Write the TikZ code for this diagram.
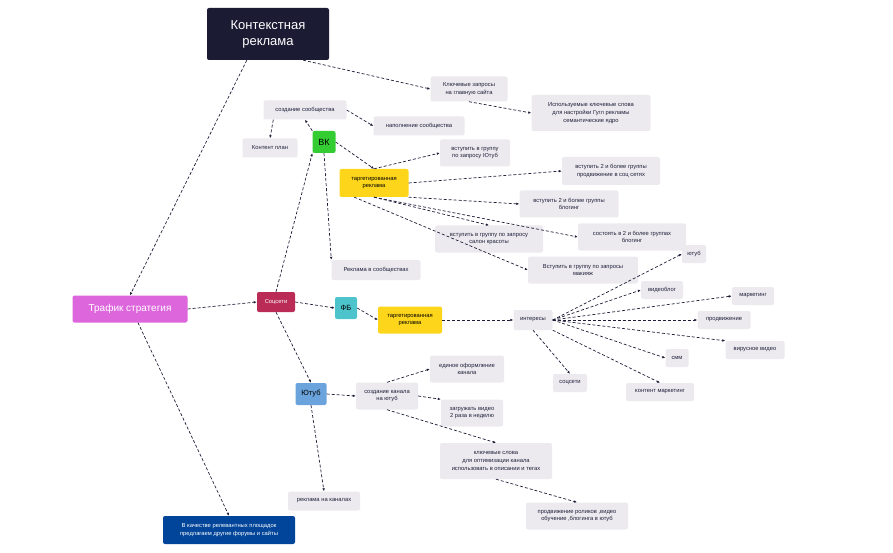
\documentclass[tikz,border=0pt]{standalone}
\usepackage{fontspec}
\setmainfont{Liberation Sans}
\usetikzlibrary{arrows.meta}
\definecolor{grayb}{HTML}{ECEAEE}
\definecolor{ink}{HTML}{1E1E3A}
\begin{document}
\begin{tikzpicture}[x=1pt,y=-1pt,
  b/.style={fill=grayb,rounded corners=2pt,align=center,inner sep=1pt,font=\fontsize{5.8}{7.8}\selectfont,text=ink},
  c/.style={rounded corners=2pt,align=center,inner sep=1pt},
  a/.style={draw=ink,dashed,dash pattern=on 3pt off 2pt,line width=0.7pt,-{Latex[length=3pt,width=2.6pt]}},
  sz/.style 2 args={minimum width=#1,minimum height=#2}]
\useasboundingbox (0,0) rectangle (893,553);
\node[c,fill=ink!90!black,text=white,font=\fontsize{13}{16}\selectfont,sz={122}{52}] (ctx) at (268,34) {Контекстная\\реклама};
\node[b,sz={77}{25}] (kz) at (469,89) {Ключевые запросы\\на главную сайта};
\node[b,sz={119}{36}] (ik) at (591,113) {Используемые ключевые слова\\для настройки Гугл рекламы\\семантические ядро};
\node[b,sz={83}{19}] (ss) at (305,110) {создание сообщества};
\node[b,sz={91}{19}] (ns) at (419,126) {наполнение сообщества};
\node[b,sz={55}{19}] (kp) at (270,148) {Контент план};
\node[c,fill=green!75!black!80,sz={23}{22},font=\fontsize{9}{10}\selectfont] (vk) at (324,142) {ВК};
\node[c,fill=yellow!70!orange!90,sz={69}{28},font=\fontsize{5.8}{7.8}\selectfont] (tv) at (374,183) {таргетированная\\реклама};
\node[b,sz={70}{27}] (v1) at (475,153) {вступить в группу\\по запросу Ютуб};
\node[b,sz={98}{28}] (v2) at (611,171) {вступить 2 и более группы\\продвижение в соц сетях};
\node[b,sz={99}{27}] (v3) at (569,204) {вступить 2 и более группы\\блогинг};
\node[b,sz={108}{27}] (v4) at (489,239) {вступить в группу по запросу\\салон красоты};
\node[b,sz={108}{27}] (v5) at (632,237) {состоять в 2 и более группах\\блогинг};
\node[b,sz={110}{27}] (v6) at (583,270) {Вступить в группу по запросы\\макияж};
\node[b,sz={89}{20}] (rs) at (376,270) {Реклама в сообществах};
\node[c,fill=violet!45!magenta!60,text=white,sz={115}{27},font=\fontsize{10}{12}\selectfont] (tr) at (130,309) {Трафик стратегия};
\node[c,fill=purple!75!pink!90!black,text=white,sz={38}{20},font=\fontsize{5.8}{7}\selectfont] (sc) at (276,302) {Соцсети};
\node[c,fill=cyan!70!green!70,sz={22}{22},font=\fontsize{7.5}{9}\selectfont] (fb) at (346,308) {ФБ};
\node[c,fill=yellow!70!orange!90,sz={64}{27},font=\fontsize{5.8}{7.8}\selectfont] (tf) at (410,320) {таргетированная\\реклама};
\node[b,sz={39}{20}] (in) at (533,320) {интересы};
\node[b,sz={24}{18}] (i1) at (694,254) {ютуб};
\node[b,sz={42}{18}] (i2) at (662,290) {видеоблог};
\node[b,sz={42}{18}] (i3) at (753,296) {маркетинг};
\node[b,sz={53}{18}] (i4) at (724,320) {продвижение};
\node[b,sz={59}{18}] (i5) at (755,350) {вирусное видео};
\node[b,sz={23}{18}] (i6) at (677,358) {смм};
\node[b,sz={34}{18}] (i7) at (570,383) {соцсети};
\node[b,sz={68}{18}] (i8) at (660,392) {контент маркетинг};
\node[c,fill=cyan!60!blue!60,sz={31}{22},font=\fontsize{7.5}{9}\selectfont] (yt) at (311,394) {Ютуб};
\node[b,sz={62}{27}] (sk) at (387,396) {создание канала\\на ютуб};
\node[b,sz={74}{27}] (eo) at (467,369) {единое оформление\\канала};
\node[b,sz={62}{27}] (zv) at (472,413) {загружать видео\\2 раза в неделю};
\node[b,sz={112}{36}] (ks) at (496,461) {ключевые слова\\для оптимизации канала\\использовать в описании и тегах};
\node[b,sz={102}{27}] (pr) at (577,516) {продвижение роликов ,видео\\обучение ,блогинга в ютуб};
\node[b,sz={72}{19}] (rk) at (324,501) {реклама на каналах};
\node[c,fill=blue!55!cyan!60!black,text=white,sz={132}{28},font=\fontsize{5.8}{7.8}\selectfont] (vq) at (229,530) {В качестве релевантных площадок\\предлагаем другие форумы и сайты};
% edges
\draw[a] (ctx.south west)++(40,0) -- (tr.north);
\draw[a] (ctx.south east)++(-26,0) -- (kz.west);
\draw[a] (kz.south) -- (ik.west);
\draw[a] (tr.east) -- (sc.west);
\draw[a] (tr.south) ++(8,0) -- (vq.north);
\draw[a] (sc.north) -- (vk.south west);
\draw[a] (sc.east) -- (fb.west);
\draw[a] (sc.south) -- (yt.north);
\draw[a] (vk.north west) -- (ss.south);
\draw[a] (ss.south west)++(10,0) -- (kp.north);
\draw[a] (ss.east) -- (ns.west);
\draw[a] (vk.east) -- (tv.north);
\draw[a] (vk.south) -- (rs.north west);
\draw[a] (tv.north) -- (v1.west);
\draw[a] (tv.east) -- (v2.west);
\draw[a] (tv.south east) -- (v3.west);
\draw[a] (tv.south) -- (v4.north);
\draw[a] (tv.south) -- (v5.west);
\draw[a] (tv.south west)++(15,0) -- (v6.west);
\draw[a] (fb.east) -- (tf.west);
\draw[a] (tf.east) -- (in.west);
\foreach \t in {i1,i2,i4} \draw[a] (in.east) -- (\t.west);
\draw[a] (in.east) -- (i3.west);
\draw[a] (in.east) -- (i5.north west);
\draw[a] (in.east) -- (i6.west);
\draw[a] (in.south) -- (i7.north);
\draw[a] (in.south east) -- (i8.north);
\draw[a] (yt.east) -- (sk.west);
\draw[a] (yt.south) -- (rk.north);
\draw[a] (sk.north) -- (eo.west);
\draw[a] (sk.east) -- (zv.north west);
\draw[a] (sk.south) -- (ks.north);
\draw[a] (ks.south) -- (pr.north);
\end{tikzpicture}
\end{document}
